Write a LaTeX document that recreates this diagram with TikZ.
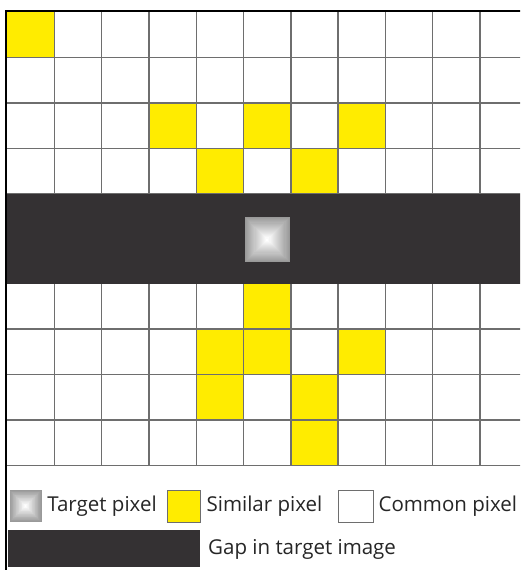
\documentclass[tikz,border=0pt]{standalone}
\usepackage{fontspec}
\setmainfont{Open Sans}
\usetikzlibrary{positioning}

\definecolor{gapgray}{RGB}{52,49,51}
\definecolor{simyellow}{RGB}{255,236,0}
\definecolor{gridgray}{RGB}{110,110,110}

% square target pixel: white centre fading to grey edges
\newcommand{\targetpix}[3]{%
  \foreach \k in {0,...,20} {
    \pgfmathsetmacro{\hs}{#3*(1-\k/21)}
    \pgfmathsetmacro{\pc}{20+\k*4}
    \fill[white!\pc!gray] (#1-\hs,#2-\hs) rectangle (#1+\hs,#2+\hs);
  }%
}

\begin{document}
\begin{tikzpicture}[x=1pt, y=-1pt,
    legbox/.style={draw=gridgray, line width=0.8pt, minimum width=33pt, minimum height=32pt, inner sep=0pt},
    legtext/.style={inner sep=0pt, font=\fontsize{20.5}{24}\selectfont, text=black!85}]
    \clip (0,0) rectangle (520,570);
    \fill[white] (0,0) rectangle (520,570);
    % similar pixels above the gap
    \foreach \c/\r in {0/0, 3/2, 5/2, 7/2, 4/3, 6/3}
        \fill[simyellow] ({7+47.3*\c},{12+45.4*\r}) rectangle ++(47.3,45.4);
    % similar pixels below the gap
    \foreach \c/\r in {5/0, 4/1, 5/1, 7/1, 4/2, 6/2, 6/3}
        \fill[simyellow] ({7+47.3*\c},{283.6+45.4*\r}) rectangle ++(47.3,45.4);
    % grid
    \foreach \c in {1,...,11}
        \draw[gridgray, line width=1.4pt] ({7+47.3*\c},12) -- ({7+47.3*\c},465.2);
    \foreach \r in {1,...,4} {
        \draw[gridgray, line width=1.4pt] (7,{12+45.4*\r}) -- (527,{12+45.4*\r});
        \draw[gridgray, line width=1.4pt] (7,{283.6+45.4*\r}) -- (527,{283.6+45.4*\r});
    }
    % gap band and target pixel
    \fill[gapgray] (7,193.6) rectangle (527,283.6);
    \targetpix{267.3}{239.6}{22.5}
    \draw[line width=2.5pt] (6,571) -- (6,11) -- (522,11);

    % legend
    \targetpix{25.5}{506}{16}
    \node[minimum width=35pt, minimum height=32pt, inner sep=0pt] (tgtbox) at (25.5,506) {};
    \node[legtext, right=4pt of tgtbox] (tgttext) {Target pixel};
    \node[legbox, fill=simyellow] (simbox) at (183.5,506) {};
    \node[legtext, right=6pt of simbox] (simtext) {Similar pixel};
    \node[legbox, fill=white, minimum width=35pt] (combox) at (355.5,506) {};
    \node[legtext, right=5pt of combox] (comtext) {Common pixel};
    \fill[gapgray] (8,530) rectangle (200,567);
    \coordinate (gapbox) at (200,549);
    \node[legtext, right=8pt of gapbox] (gaptext) {Gap in target image};
\end{tikzpicture}
\end{document}
